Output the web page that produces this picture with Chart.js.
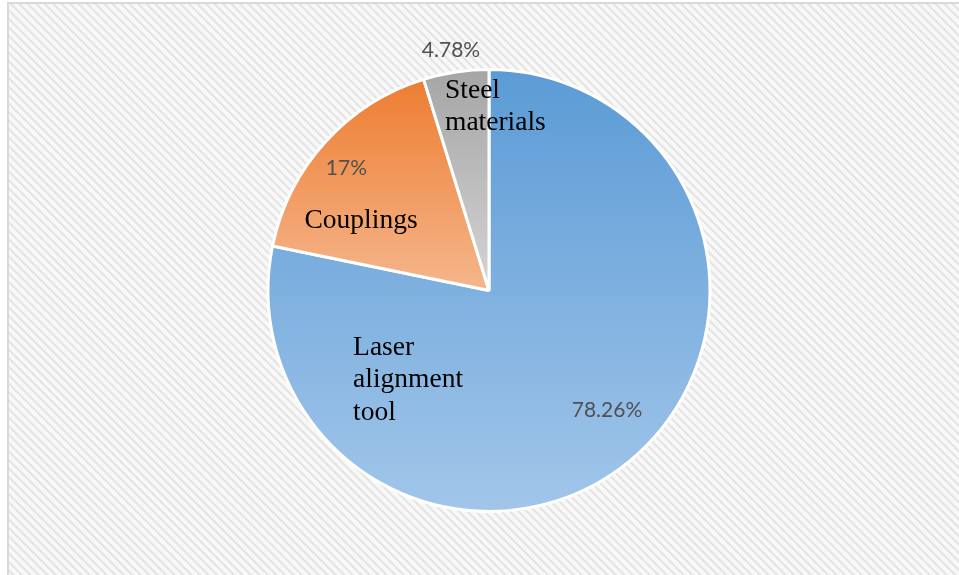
<!DOCTYPE html>
<html>
<head>
<meta charset="utf-8">
<script src="https://cdn.jsdelivr.net/npm/chart.js@4"></script>
<style>
  html, body { margin: 0; padding: 0; background: #fff; }
  #wrap { position: relative; width: 959px; height: 575px; overflow: hidden; }
  #panel {
    position: absolute; left: 7px; top: 2px; width: 960px; height: 580px;
    border-left: 2px solid #d9d9d9; border-top: 2px solid #d9d9d9;
    background: repeating-linear-gradient(45deg, #f8f8f8 0px, #f8f8f8 2px, #e3e3e3 3px, #e3e3e3 4px, #f8f8f8 5px, #f8f8f8 6px);
  }
  #pie { position: absolute; left: 0; top: 0; }
</style>
</head>
<body>
<div id="wrap">
  <div id="panel"></div>
  <canvas id="pie" width="959" height="575"></canvas>
</div>
<script>
// cost shares
const categories = ['Laser alignment tool', 'Couplings', 'Steel materials'];
const shares = [78.26, 17, 4.78];
const shareLabels = ['78.26%', '17%', '4.78%'];

// top / bottom colours of each slice gradient
const topColors = ['#5b9bd5', '#ed7d31', '#a5a5a5'];
const bottomColors = ['#a2c6ea', '#f5b68c', '#d4d4d4'];

// label placement, in units of the pie radius from its centre
const nameLines = [['Laser', 'alignment', 'tool'], ['Couplings'], ['Steel', 'materials']];
const nameAnchor = [[-0.615, 0.258, 'left'], [-0.579, -0.317, 'center'], [-0.199, -0.905, 'left']];
const pctAnchor = [[0.534, 0.543], [-0.645, -0.552], [-0.172, -1.086]];

// vertical extent of a sector, used to stretch each gradient over its own slice
function sliceExtent(cy, r, a0, a1) {
  let ys = [cy, cy + r * Math.sin(a0), cy + r * Math.sin(a1)];
  for (let k = -2; k <= 4; k++) {
    const a = Math.PI / 2 + k * Math.PI;
    if (a > a0 && a < a1) ys.push(cy + r * Math.sin(a));
  }
  return [Math.min(...ys), Math.max(...ys)];
}

function sliceFill(ctx) {
  const chart = ctx.chart;
  const area = chart.chartArea;
  const i = ctx.dataIndex;
  if (!area) return topColors[i];
  const cy = (area.top + area.bottom) / 2;
  const r = Math.min(area.right - area.left, area.bottom - area.top) / 2;
  const total = shares.reduce((a, b) => a + b, 0);
  let before = 0;
  for (let k = 0; k < i; k++) before += shares[k];
  const a0 = -Math.PI / 2 + 2 * Math.PI * before / total;
  const a1 = a0 + 2 * Math.PI * shares[i] / total;
  const [y0, y1] = sliceExtent(cy, r, a0, a1);
  const g = chart.ctx.createLinearGradient(0, y0, 0, y1);
  g.addColorStop(0, topColors[i]);
  g.addColorStop(1, bottomColors[i]);
  return g;
}

const labelPlugin = {
  id: 'sliceLabels',
  afterDatasetsDraw(chart) {
    const ctx = chart.ctx;
    const arcs = chart.getDatasetMeta(0).data;
    ctx.save();
    ctx.textBaseline = 'middle';
    arcs.forEach((arc, i) => {
      const r = arc.outerRadius;
      // percentage
      ctx.font = '21px Lato, "Open Sans", sans-serif';
      ctx.fillStyle = '#505050';
      ctx.textAlign = 'center';
      ctx.fillText(shareLabels[i], arc.x + pctAnchor[i][0] * r, arc.y + pctAnchor[i][1] * r);
      // category name
      ctx.font = '27.5px "Liberation Serif", "DejaVu Serif", serif';
      ctx.fillStyle = '#000';
      ctx.textAlign = nameAnchor[i][2];
      nameLines[i].forEach((line, j) => {
        ctx.fillText(line, arc.x + nameAnchor[i][0] * r, arc.y + nameAnchor[i][1] * r + j * 32.5);
      });
    });
    ctx.restore();
  }
};

new Chart(document.getElementById('pie'), {
  type: 'pie',
  data: {
    labels: categories,
    datasets: [{
      data: shares,
      backgroundColor: sliceFill,
      borderColor: '#ffffff',
      borderWidth: 3
    }]
  },
  options: {
    responsive: false,
    animation: false,
    layout: { padding: { top: 68, bottom: 62, left: 19, right: 0 } },
    plugins: {
      legend: { display: false },
      tooltip: { enabled: false }
    }
  },
  plugins: [labelPlugin]
});
</script>
</body>
</html>
